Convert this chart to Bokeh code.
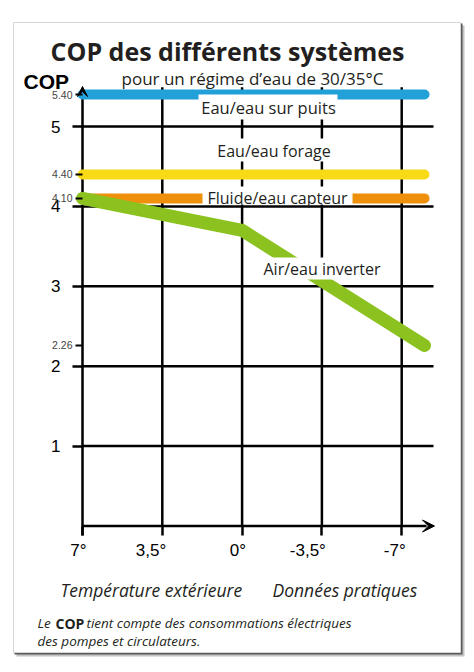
from bokeh.plotting import figure
from bokeh.models import (Range1d, LinearAxis, FixedTicker, NumeralTickFormatter,
                          Label, Arrow, VeeHead)
from bokeh.core.properties import value
from bokeh.embed import file_html
from bokeh.resources import INLINE

# ---------------- data ----------------
temps = [7, 3.5, 0, -3.5, -7]
temp_labels = ["7°", "3,5°", "0°", "-3,5°", "-7°"]
cop_ticks = [1, 2, 3, 4, 5]
cop_marks = [5.40, 4.40, 4.10, 2.26]
span_temps = [7, -8]
cop_puits = [5.40, 5.40]
cop_forage = [4.40, 4.40]
cop_capteur = [4.10, 4.10]
air_temps = [7, 0, -8]
cop_air = [4.10, 3.70, 2.26]

# ---------------- layout helpers (page pixels -> data) ----------------
W, H = 470, 668
PXD = 22.8    # pixels per degree
X7 = 82       # page x of 7°
PXU = 79.9    # pixels per COP unit
Y0 = 525.5    # page y of COP 0


def dx(px):
    return 7 - (px - X7) / PXD


def dy(py):
    return (Y0 - py) / PXU


p = figure(width=W, height=H,
           x_range=Range1d(dx(0), dx(W)), y_range=Range1d(dy(H), dy(0)),
           x_axis_type=None, y_axis_type=None, toolbar_location=None,
           output_backend="svg", min_border=0, outline_line_color=None,
           background_fill_color="white", border_fill_color="white")
p.title.visible = False

# card with drop shadow
p.quad(left=dx(16), right=dx(464), top=dy(25), bottom=dy(656),
       fill_color="#c4c4c4", line_color=None)
p.quad(left=dx(14), right=dx(462), top=dy(23), bottom=dy(654),
       fill_color="#5a5a5a", line_color=None)
p.quad(left=dx(13), right=dx(460), top=dy(22), bottom=dy(652),
       fill_color="white", line_color="#d6d6d6", line_width=1)

# grid
x_end = dx(433)
p.segment(x0=7, y0=cop_ticks, x1=x_end, y1=cop_ticks, line_color="black", line_width=2.5)
p.segment(x0=temps[1:], y0=0, x1=temps[1:], y1=5.49, line_color="black", line_width=2.5)
# axis lines
p.segment(x0=7, y0=dy(535), x1=7, y1=dy(92), line_color="black", line_width=2.5)
p.segment(x0=7, y0=0, x1=dx(426), y1=0, line_color="black", line_width=2.5)

# series
p.line(span_temps, cop_puits, line_width=10, line_color="#22a0d8", line_cap="round")
p.line(span_temps, cop_forage, line_width=10, line_color="#f8da17", line_cap="round")
p.line(span_temps, cop_capteur, line_width=10, line_color="#ef900c", line_cap="round")
p.line(air_temps, cop_air, line_width=13, line_color="#8cc21f",
       line_cap="round", line_join="round")

# white boxes behind series labels
p.quad(left=dx(198), right=dx(337), top=cop_puits[0], bottom=dy(119),
       fill_color="white", line_color=None)
p.quad(left=dx(214), right=dx(333), top=dy(138), bottom=dy(161),
       fill_color="white", line_color=None)
p.quad(left=dx(202), right=dx(352), top=dy(186), bottom=dy(204),
       fill_color="white", line_color=None)
p.quad(left=dx(258), right=dx(385), top=dy(257), bottom=dy(279),
       fill_color="white", line_color=None)

# arrow heads
p.add_layout(Arrow(end=VeeHead(size=12, fill_color="black", line_color="black", line_width=1),
                   x_start=dx(415), y_start=0, x_end=dx(434), y_end=0, line_color=None))
p.add_layout(Arrow(end=VeeHead(size=10, fill_color="black", line_color="black", line_width=1),
                   x_start=7, y_start=dy(110), x_end=7, y_end=dy(86), line_color=None))

# axes
yax = LinearAxis(fixed_location=7, ticker=FixedTicker(ticks=cop_ticks),
                 axis_line_color=None, major_tick_in=0, major_tick_out=10,
                 major_tick_line_width=2.5, major_tick_line_color="black",
                 minor_tick_line_color=None, major_label_standoff=12,
                 major_label_text_font="Liberation Sans",
                 major_label_text_font_size="17px", major_label_text_color="black")
p.add_layout(yax, "left")

yax2 = LinearAxis(fixed_location=7, ticker=FixedTicker(ticks=cop_marks),
                  formatter=NumeralTickFormatter(format="0.00"),
                  axis_line_color=None, major_tick_in=0, major_tick_out=7,
                  major_tick_line_width=2, major_tick_line_color="black",
                  minor_tick_line_color=None, major_label_standoff=3,
                  major_label_text_font="Liberation Sans",
                  major_label_text_font_size="10.5px", major_label_text_color="#444444")
p.add_layout(yax2, "left")

xax = LinearAxis(fixed_location=0, ticker=FixedTicker(ticks=temps),
                 axis_line_color=None, major_tick_in=0, major_tick_out=9,
                 major_tick_line_width=2.5, major_tick_line_color="black",
                 minor_tick_line_color=None, major_label_text_color=None)
p.add_layout(xax, "below")

# temperature tick labels (right-aligned at the ticks, as in the original)
p.text(x=temps, y=dy(550), text=temp_labels, text_align="right", text_baseline="middle",
       x_offset=4, text_font=value("Liberation Sans"), text_font_size="17px",
       text_color="black")


# texts
def lab(text, px, py, size, align="left", font="Open Sans", style="normal", color="#231f20"):
    p.add_layout(Label(x=dx(px), y=dy(py), text=text, text_font=font,
                       text_font_size=f"{size}px", text_font_style=style,
                       text_align=align, text_baseline="middle", text_color=color))


lab("COP des différents systèmes", 227, 50, 25, "center", style="bold")
lab("pour un régime d’eau de 30/35°C", 252, 78, 17, "center")
lab("COP", 23, 81, 21, font="Liberation Sans", style="bold", color="black")
lab("Eau/eau sur puits", 268, 107, 16.5, "center")
lab("Eau/eau forage", 273.5, 150, 16, "center")
lab("Fluide/eau capteur", 277, 197, 16, "center")
lab("Air/eau inverter", 321.5, 268, 16, "center")
lab("Température extérieure", 60, 589, 17.5, style="italic")
lab("Données pratiques", 272, 589, 17.5, style="italic")
lab("Le", 37, 622.5, 13.5, style="italic")
lab("COP", 55, 622.5, 14, style="bold")
lab("tient compte des consommations électriques", 86, 622.5, 13.5, style="italic")
lab("des pompes et circulateurs.", 37, 640.5, 13.5, style="italic")

open("out.html", "w").write(file_html(p, INLINE))
